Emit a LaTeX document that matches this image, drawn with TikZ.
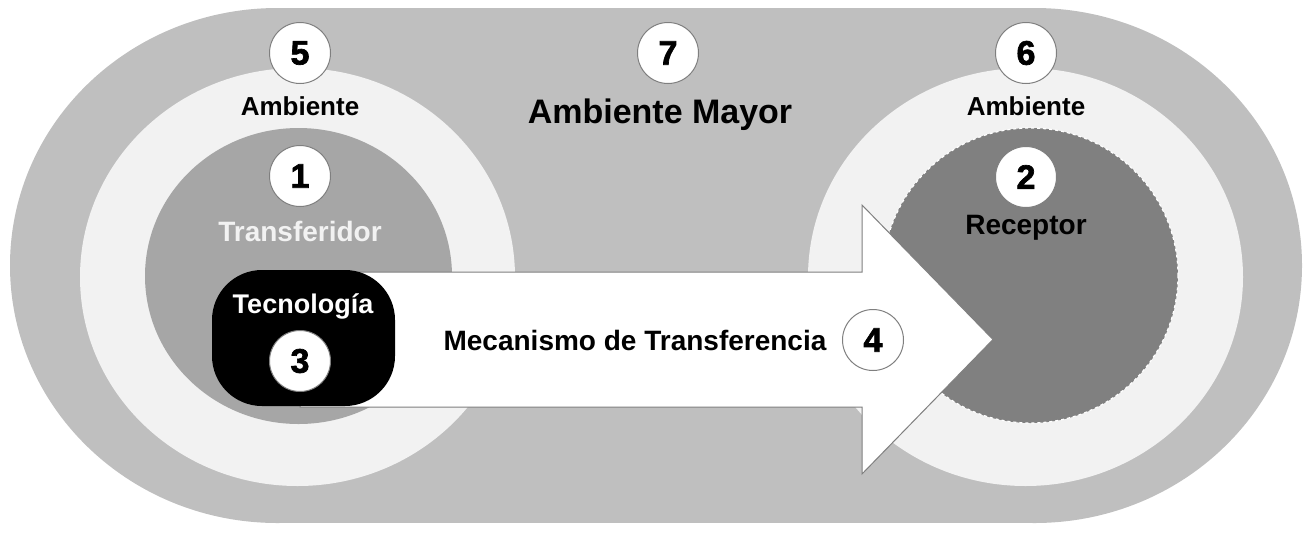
\documentclass[tikz,border=0pt]{standalone}
\usepackage{fontspec}
\setmainfont{Liberation Sans}
\newfontfamily\numfont{Liberation Sans}[FakeBold=2]
\usetikzlibrary{shapes.geometric}
\definecolor{outerg}{HTML}{BFBFBF}
\definecolor{ringg}{HTML}{F2F2F2}
\definecolor{transg}{HTML}{A6A6A6}
\definecolor{recg}{HTML}{808080}
\definecolor{edgeg}{HTML}{7F7F7F}
\definecolor{txtw}{HTML}{F2F2F2}
\begin{document}
\begin{tikzpicture}[x=1pt,y=-1pt,
  badge/.style={circle,fill=white,draw=edgeg,line width=1pt,minimum size=61pt,inner sep=0pt,
    font=\fontsize{34}{36}\selectfont\numfont\bfseries},
  lbl/.style={inner sep=0pt,font=\fontsize{26}{28}\selectfont\bfseries},
  biglbl/.style={inner sep=0pt,font=\fontsize{28}{30}\selectfont\bfseries},
  disc/.style={ellipse,inner sep=0pt}]
\useasboundingbox (0,0) rectangle (1304,542);
% outer stadium
\node[disc,fill=outerg,minimum width=535pt,minimum height=515pt] (outL) at (277.5,265.5) {};
\node[disc,fill=outerg,minimum width=535pt,minimum height=515pt] (outR) at (1034.5,265.5) {};
\fill[outerg] (277.5,8) rectangle (1034.5,523);
% ambient rings
\node[disc,fill=ringg,minimum width=435pt,minimum height=418pt] (ambL) at (297.5,277) {};
\node[disc,fill=ringg,minimum width=435pt,minimum height=418pt] (ambR) at (1025.5,277) {};
% transferidor & receptor
\node[disc,fill=transg,minimum width=307pt,minimum height=296pt] (trans) at (298.5,276) {};
\node[disc,fill=recg,draw=white,dashed,line width=1.2pt,minimum width=295pt,minimum height=295pt] (rec) at (1030.5,275.5) {};
% arrow
\coordinate (a0) at (300,272);
\coordinate (tip) at (993,339.5);
\filldraw[fill=white,draw=edgeg,line width=1pt,line join=miter]
  (a0) -- (862,272) -- (862,205) -- (tip) -- (862,474) -- (862,407) -- (300,407) -- cycle;
% tecnologia box
\node[fill=black,rounded corners=50pt,minimum width=183pt,minimum height=136pt,inner sep=0pt] (tec) at (303.5,338) {};
% labels
\node[badge] (b5) at (300,53) {5};
\node[lbl] (amb5) at (300,106) {Ambiente};
\node[badge] (b7) at (668,53) {7};
\node[biglbl,font=\fontsize{34}{36}\selectfont\bfseries] (mayor) at (660,115) {Ambiente Mayor};
\node[badge] (b6) at (1026,53) {6};
\node[lbl] (amb6) at (1026,106) {Ambiente};
\node[badge] (b1) at (300,176) {1};
\node[biglbl,text=txtw] (tlbl) at (300,231) {Transferidor};
\node[badge] (b2) at (1026,177) {2};
\node[biglbl] (rlbl) at (1026,228) {Receptor};
\node[lbl,font=\fontsize{27}{29}\selectfont\bfseries,text=white] (tecl) at (303,306) {Tecnología};
\node[badge] (b3) at (300,361) {3};
\node[biglbl] (mec) at (635,340) {Mecanismo de Transferencia};
\node[badge] (b4) at (873,340) {4};
\end{tikzpicture}
\end{document}
